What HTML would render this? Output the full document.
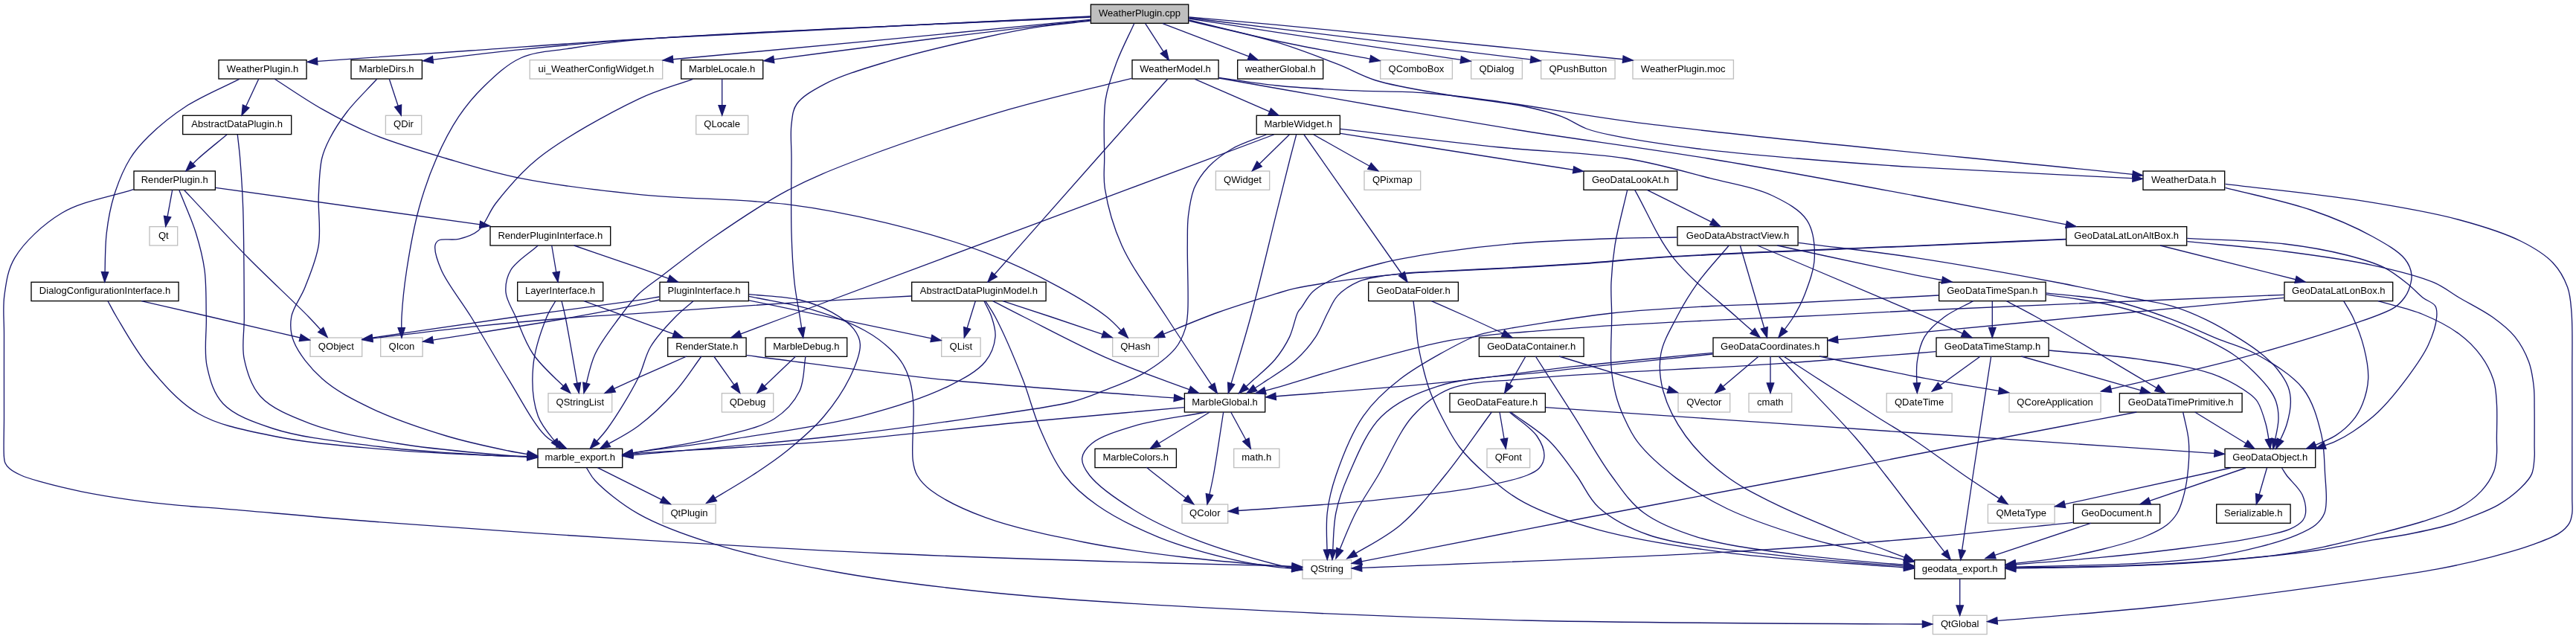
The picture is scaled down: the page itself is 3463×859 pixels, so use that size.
<!DOCTYPE html><html><head><meta charset="utf-8"><title>WeatherPlugin.cpp</title><style>html,body{margin:0;padding:0;background:#fff}svg{display:block;will-change:transform}text{font-family:"Liberation Sans",sans-serif;font-size:13.33px;fill:#000;text-anchor:middle}.e{fill:none;stroke:#191970;stroke-width:1.333}.a{fill:#191970;stroke:#191970;stroke-width:1.333}.b{fill:#fff;stroke:#000;stroke-width:1.333}.g{fill:#fff;stroke:#bfbfbf;stroke-width:1.333}.r{fill:#bfbfbf;stroke:#000;stroke-width:1.333}</style></head><body>
<svg width="3463" height="859" viewBox="0 0 3463 859">
<rect width="3463" height="859" fill="#fff"/>
<rect class="r" x="1466.4" y="6" width="131.3" height="25.3"/>
<text transform="translate(1532,22) scale(0.98,1.02)">WeatherPlugin.cpp</text>
<rect class="b" x="294" y="80.7" width="118.1" height="25.3"/>
<text transform="translate(353,97) scale(0.98,1.02)">WeatherPlugin.h</text>
<rect class="b" x="472" y="80.7" width="95.4" height="25.3"/>
<text transform="translate(519.6,97) scale(0.98,1.02)">MarbleDirs.h</text>
<rect class="g" x="712.2" y="80.7" width="178.5" height="25.3"/>
<text transform="translate(801.4,97) scale(0.98,1.02)">ui_WeatherConfigWidget.h</text>
<rect class="b" x="915.7" y="80.7" width="110" height="25.3"/>
<text transform="translate(970.6,97) scale(0.98,1.02)">MarbleLocale.h</text>
<rect class="b" x="1522" y="80.7" width="116.1" height="25.3"/>
<text transform="translate(1580,97) scale(0.98,1.02)">WeatherModel.h</text>
<rect class="b" x="1663.7" y="80.7" width="115" height="25.3"/>
<text transform="translate(1721.2,97) scale(0.98,1.02)">weatherGlobal.h</text>
<rect class="g" x="1855.7" y="80.7" width="96.7" height="25.3"/>
<text transform="translate(1904,97) scale(0.98,1.02)">QComboBox</text>
<rect class="g" x="1977.7" y="80.7" width="68.7" height="25.3"/>
<text transform="translate(2012,97) scale(0.98,1.02)">QDialog</text>
<rect class="g" x="2071.7" y="80.7" width="99.4" height="25.3"/>
<text transform="translate(2121.3,97) scale(0.98,1.02)">QPushButton</text>
<rect class="g" x="2195" y="80.7" width="135.4" height="25.3"/>
<text transform="translate(2262.7,97) scale(0.98,1.02)">WeatherPlugin.moc</text>
<rect class="b" x="245.7" y="155.3" width="146" height="25.3"/>
<text transform="translate(318.6,171) scale(0.98,1.02)">AbstractDataPlugin.h</text>
<rect class="g" x="518.4" y="155.3" width="48.3" height="25.3"/>
<text transform="translate(542.5,171) scale(0.98,1.02)">QDir</text>
<rect class="g" x="935.7" y="155.3" width="70" height="25.3"/>
<text transform="translate(970.6,171) scale(0.98,1.02)">QLocale</text>
<rect class="b" x="1689.2" y="155.3" width="112.2" height="25.3"/>
<text transform="translate(1745.2,171) scale(0.98,1.02)">MarbleWidget.h</text>
<rect class="b" x="180" y="230" width="109.4" height="25.3"/>
<text transform="translate(234.7,246) scale(0.98,1.02)">RenderPlugin.h</text>
<rect class="g" x="1634.4" y="230" width="72.3" height="25.3"/>
<text transform="translate(1670.5,246) scale(0.98,1.02)">QWidget</text>
<rect class="g" x="1834" y="230" width="75.7" height="25.3"/>
<text transform="translate(1871.8,246) scale(0.98,1.02)">QPixmap</text>
<rect class="b" x="2129" y="230" width="125.7" height="25.3"/>
<text transform="translate(2191.8,246) scale(0.98,1.02)">GeoDataLookAt.h</text>
<rect class="b" x="2881" y="230" width="109.7" height="25.3"/>
<text transform="translate(2935.8,246) scale(0.98,1.02)">WeatherData.h</text>
<rect class="g" x="201" y="304.7" width="37.7" height="25.3"/>
<text transform="translate(219.8,321) scale(0.98,1.02)">Qt</text>
<rect class="b" x="659" y="304.7" width="161.7" height="25.3"/>
<text transform="translate(739.8,321) scale(0.98,1.02)">RenderPluginInterface.h</text>
<rect class="b" x="2255" y="304.7" width="162.1" height="25.3"/>
<text transform="translate(2336,321) scale(0.98,1.02)">GeoDataAbstractView.h</text>
<rect class="b" x="2777.7" y="304.7" width="162" height="25.3"/>
<text transform="translate(2858.7,321) scale(0.98,1.02)">GeoDataLatLonAltBox.h</text>
<rect class="b" x="42" y="379.3" width="198.1" height="25.3"/>
<text transform="translate(141,395) scale(0.98,1.02)">DialogConfigurationInterface.h</text>
<rect class="b" x="695.7" y="379.3" width="115" height="25.3"/>
<text transform="translate(753.1,395) scale(0.98,1.02)">LayerInterface.h</text>
<rect class="b" x="887" y="379.3" width="119.4" height="25.3"/>
<text transform="translate(946.6,395) scale(0.98,1.02)">PluginInterface.h</text>
<rect class="b" x="1225.7" y="379.3" width="180.4" height="25.3"/>
<text transform="translate(1315.8,395) scale(0.98,1.02)">AbstractDataPluginModel.h</text>
<rect class="b" x="1839.7" y="379.3" width="120.7" height="25.3"/>
<text transform="translate(1900,395) scale(0.98,1.02)">GeoDataFolder.h</text>
<rect class="b" x="2606.7" y="379.3" width="143.4" height="25.3"/>
<text transform="translate(2678.3,395) scale(0.98,1.02)">GeoDataTimeSpan.h</text>
<rect class="b" x="3071" y="379.3" width="145.7" height="25.3"/>
<text transform="translate(3143.8,395) scale(0.98,1.02)">GeoDataLatLonBox.h</text>
<rect class="g" x="417" y="454" width="69.7" height="25.3"/>
<text transform="translate(451.8,470) scale(0.98,1.02)">QObject</text>
<rect class="g" x="511.7" y="454" width="56.4" height="25.3"/>
<text transform="translate(539.9,470) scale(0.98,1.02)">QIcon</text>
<rect class="b" x="897.7" y="454" width="105.4" height="25.3"/>
<text transform="translate(950.4,470) scale(0.98,1.02)">RenderState.h</text>
<rect class="b" x="1029" y="454" width="109.7" height="25.3"/>
<text transform="translate(1083.8,470) scale(0.98,1.02)">MarbleDebug.h</text>
<rect class="g" x="1265.7" y="454" width="52.4" height="25.3"/>
<text transform="translate(1291.8,470) scale(0.98,1.02)">QList</text>
<rect class="g" x="1495.7" y="454" width="61.7" height="25.3"/>
<text transform="translate(1526.5,470) scale(0.98,1.02)">QHash</text>
<rect class="b" x="1988.4" y="454" width="140.7" height="25.3"/>
<text transform="translate(2058.7,470) scale(0.98,1.02)">GeoDataContainer.h</text>
<rect class="b" x="2303" y="454" width="153.7" height="25.3"/>
<text transform="translate(2379.8,470) scale(0.98,1.02)">GeoDataCoordinates.h</text>
<rect class="b" x="2603" y="454" width="151.1" height="25.3"/>
<text transform="translate(2678.5,470) scale(0.98,1.02)">GeoDataTimeStamp.h</text>
<rect class="g" x="737" y="528.7" width="85.7" height="25.3"/>
<text transform="translate(779.8,545) scale(0.98,1.02)">QStringList</text>
<rect class="g" x="970.4" y="528.7" width="69.3" height="25.3"/>
<text transform="translate(1005,545) scale(0.98,1.02)">QDebug</text>
<rect class="b" x="1592.4" y="528.7" width="108.3" height="25.3"/>
<text transform="translate(1646.5,545) scale(0.98,1.02)">MarbleGlobal.h</text>
<rect class="b" x="1949" y="528.7" width="128.4" height="25.3"/>
<text transform="translate(2013.2,545) scale(0.98,1.02)">GeoDataFeature.h</text>
<rect class="g" x="2256" y="528.7" width="69.7" height="25.3"/>
<text transform="translate(2290.8,545) scale(0.98,1.02)">QVector</text>
<rect class="g" x="2351" y="528.7" width="57.7" height="25.3"/>
<text transform="translate(2379.8,545) scale(0.98,1.02)">cmath</text>
<rect class="g" x="2536.2" y="528.7" width="87.9" height="25.3"/>
<text transform="translate(2580.1,545) scale(0.98,1.02)">QDateTime</text>
<rect class="g" x="2701" y="528.7" width="123.1" height="25.3"/>
<text transform="translate(2762.5,545) scale(0.98,1.02)">QCoreApplication</text>
<rect class="b" x="2849.4" y="528.7" width="164.7" height="25.3"/>
<text transform="translate(2931.7,545) scale(0.98,1.02)">GeoDataTimePrimitive.h</text>
<rect class="b" x="723" y="603.3" width="113.7" height="25.3"/>
<text transform="translate(779.8,619) scale(0.98,1.02)">marble_export.h</text>
<rect class="b" x="1472" y="603.3" width="109.4" height="25.3"/>
<text transform="translate(1526.7,619) scale(0.98,1.02)">MarbleColors.h</text>
<rect class="g" x="1658.7" y="603.3" width="61.2" height="25.3"/>
<text transform="translate(1689.2,619) scale(0.98,1.02)">math.h</text>
<rect class="g" x="1999" y="603.3" width="57.7" height="25.3"/>
<text transform="translate(2027.8,619) scale(0.98,1.02)">QFont</text>
<rect class="b" x="2991" y="603.3" width="121.7" height="25.3"/>
<text transform="translate(3051.8,619) scale(0.98,1.02)">GeoDataObject.h</text>
<rect class="g" x="891" y="678" width="71.1" height="25.3"/>
<text transform="translate(926.5,694) scale(0.98,1.02)">QtPlugin</text>
<rect class="g" x="1589" y="678" width="61.7" height="25.3"/>
<text transform="translate(1619.8,694) scale(0.98,1.02)">QColor</text>
<rect class="g" x="2672.4" y="678" width="89.7" height="25.3"/>
<text transform="translate(2717.2,694) scale(0.98,1.02)">QMetaType</text>
<rect class="b" x="2787.4" y="678" width="116.3" height="25.3"/>
<text transform="translate(2845.5,694) scale(0.98,1.02)">GeoDocument.h</text>
<rect class="b" x="2979.7" y="678" width="99.4" height="25.3"/>
<text transform="translate(3029.3,694) scale(0.98,1.02)">Serializable.h</text>
<rect class="g" x="1751" y="752.7" width="65.7" height="25.3"/>
<text transform="translate(1783.8,769) scale(0.98,1.02)">QString</text>
<rect class="b" x="2573.7" y="752.7" width="122" height="25.3"/>
<text transform="translate(2634.7,769) scale(0.98,1.02)">geodata_export.h</text>
<rect class="g" x="2598.4" y="827.3" width="72.7" height="25.3"/>
<text transform="translate(2634.7,843) scale(0.98,1.02)">QtGlobal</text>
<path class="e" d="M1465.7,22C1263.1,32.2 1011.2,43.6 858,52.7C764.7,58.2 707.6,62.9 633,68C559.3,73.1 486.5,78.2 413.3,83.3"/>
<polygon class="a" points="426.3,77.7 413.3,83.3 426.9,87"/>
<path class="e" d="M1465.7,22.5C1263.1,32.6 994.8,43.5 858,52.9C788.2,57.7 750.2,61.6 700,66.7C654.2,71.3 612.5,76.7 568.7,81.7"/>
<polygon class="a" points="581.4,75.5 568.7,81.7 582.5,84.8"/>
<path class="e" d="M1465.7,23C1263.1,33.1 971.1,43.3 858,53.3C814,57.2 794.7,60.5 766.7,65C742.7,68.9 719.7,69.1 700,78C681,86.6 664.3,102.9 650,116.7C637,129.3 626.8,141.6 616.7,156.7C605.5,173.4 595.4,193.1 586.7,213C577.5,234 569.8,256 563.3,279.7C556.2,305.7 550.7,337.1 546.7,363C543.3,385.4 540.9,409.2 540,426C539.4,437.2 540,444.7 540,454"/>
<polygon class="a" points="535.1,440.7 540,454 544.4,440.6"/>
<path class="e" d="M1465.7,26.3C1374.1,35.3 1284.6,44.3 1191,53.2C1093.3,62.5 991.2,71.7 891.3,81"/>
<polygon class="a" points="904.1,75.1 891.3,81 905,84.4"/>
<path class="e" d="M1465.7,27.3C1443.8,29.6 1426.1,31.3 1400,34.3C1361.7,38.7 1311,44.8 1258,51.5C1190.3,60 1104,71.6 1027,81.7"/>
<polygon class="a" points="1039.6,75.3 1027,81.7 1040.8,84.6"/>
<path class="e" d="M1465.7,28.2C1443.8,30.7 1422.6,32.3 1400,35.7C1375.7,39.4 1353.3,43.7 1324.7,50C1286.4,58.4 1230.3,71.4 1191.3,83.3C1160,92.8 1129.6,101.9 1108,113.3C1092.5,121.5 1078.1,129.7 1071,140C1065.5,148 1065.3,156.5 1064,166.7C1062.3,179.9 1064,194.6 1064,213C1064,240 1063.1,283 1064,313C1064.7,337.5 1065.8,359.5 1068,379.7C1069.8,396.6 1073.2,412.5 1075.3,426C1077,436.5 1078.2,444.7 1079.7,454"/>
<polygon class="a" points="1073,441.6 1079.7,454 1082.2,440.1"/>
<path class="e" d="M1524.7,31.7C1516.9,48.9 1507.8,66 1501.3,83.3C1495.1,99.9 1489.3,114.5 1486.3,133.3C1482.6,156.6 1484.8,191 1484.7,213C1484.7,228.6 1483,237.7 1485.3,253C1488.6,274.6 1496.2,303.5 1508,329.7C1522,360.9 1547.1,393.5 1568,426C1589.8,459.8 1613.5,494.5 1636.3,528.7"/>
<polygon class="a" points="1625,520.2 1636.3,528.7 1632.8,515"/>
<path class="e" d="M1539.7,31.7C1539.7,31.7 1571.3,80.7 1571.3,80.7"/>
<polygon class="a" points="1560.2,72 1571.3,80.7 1568,67"/>
<path class="e" d="M1563,31.7C1563,31.7 1691.3,80.7 1691.3,80.7"/>
<polygon class="a" points="1677.2,80.3 1691.3,80.7 1680.5,71.6"/>
<path class="e" d="M1598.3,27C1637.5,36.3 1675,46.2 1716,55C1760.3,64.5 1808.7,72.8 1855,81.7"/>
<polygon class="a" points="1841,83.8 1855,81.7 1842.8,74.6"/>
<path class="e" d="M1598.3,25C1637.5,31.1 1675.5,37.1 1716,43.3C1759,49.9 1805.3,56.7 1849.3,63.3C1892.3,69.7 1934.4,76 1977,82.3"/>
<polygon class="a" points="1963.1,85 1977,82.3 1964.5,75.7"/>
<path class="e" d="M1598.3,24C1637.5,28.8 1666.2,32.2 1716,38.3C1802.5,48.8 1952.7,67.2 2071,81.7"/>
<polygon class="a" points="2057.2,84.7 2071,81.7 2058.3,75.4"/>
<path class="e" d="M1598.3,23C1637.5,26.4 1663.6,28.4 1716,33.3C1821.9,43.2 2035.3,65.1 2195,81"/>
<polygon class="a" points="2181.3,84.3 2195,81 2182.2,75"/>
<path class="e" d="M1598.3,28C1637.5,37.6 1680.4,46 1716,56.7C1746.4,65.9 1775.2,77.2 1799.3,86.7C1818.2,94.1 1829.4,101.8 1849.3,108C1876.5,116.4 1915.7,122.2 1949,128C1982.2,133.8 2021.5,137.2 2049,143C2068.8,147.2 2084.5,151.1 2099.3,156.7C2111.8,161.4 2121.4,168.8 2132.7,173C2143.6,177 2151.4,178.7 2166,181.7C2193,187.3 2242.4,194.9 2282.7,200C2325.6,205.4 2369.7,209 2416,213C2466.4,217.3 2512.7,220.9 2574,224.7C2659.3,230 2778.2,235.1 2880.3,240.3"/>
<polygon class="a" points="2866.8,244.3 2880.3,240.3 2867.2,235"/>
<path class="e" d="M321.7,106.3C297.8,118.5 271.1,129.3 250,143C231.1,155.2 213.3,170 200,183C189.6,193.2 182.3,201.1 175,213C166.4,227 158.6,246 153.3,263C148.2,279.4 145.4,295.1 143.3,313C140.9,333.4 141.6,357 140.7,379"/>
<polygon class="a" points="136.4,365.5 140.7,379 145.7,365.8"/>
<path class="e" d="M347.7,106.3C347.7,106.3 325,155 325,155"/>
<polygon class="a" points="326.4,140.9 325,155 334.9,144.9"/>
<path class="e" d="M369.3,106.3C390.5,119.8 411.2,134.4 433,146.7C454.7,159 475,169.7 500,180C529.6,192.2 566.5,203 600,213C633.2,222.9 662.6,232.2 700,239.7C746.4,249 802.1,255.6 858,261.3C920.6,267.7 998.3,267.1 1058,274.7C1107.1,280.9 1147.1,289 1191.3,299.7C1236,310.6 1283.9,324.2 1324.7,339.7C1361,353.5 1395.6,370.5 1424.7,386.3C1448.7,399.3 1471.6,413 1488,426C1500,435.5 1506.9,444.7 1516.3,454"/>
<polygon class="a" points="1503.7,447.6 1516.3,454 1510.5,441.1"/>
<path class="e" d="M506.7,106.3C493.4,120.9 477.8,135.6 466.7,150C457.2,162.4 448.9,175.2 443,186.7C438.3,195.9 435.1,202.6 432.7,213C429.5,226.8 429.1,245.1 428.3,263C427.4,283.6 431.6,308.6 428.3,329.7C425.2,349.6 416.6,369.3 410,386.3C404.3,400.9 393.9,413.1 391.7,426C389.8,437.3 390.4,447.8 395,459.3C401.3,475.1 417.1,494.8 433.3,509.3C451.3,525.4 474.9,537.3 500,549.3C529.4,563.4 567.9,576.3 600,586C628.8,594.7 660.7,601.3 683.3,606C698.7,609.2 709.3,610.5 722.3,612.7"/>
<polygon class="a" points="708.4,615.2 722.3,612.7 709.9,606"/>
<path class="e" d="M523.3,106.3C523.3,106.3 539.3,155 539.3,155"/>
<polygon class="a" points="530.7,143.8 539.3,155 539.6,140.9"/>
<path class="e" d="M931.3,106.3C906.9,115.3 885.5,120.3 858,133.3C819.1,151.8 757.2,185.9 723.3,213C698.7,232.7 680.9,254.8 666.7,273C656.4,286.2 652.8,301.6 643.3,309.7C635.6,316.3 625.8,319.1 616.7,321.3C608,323.4 595.1,320.2 590,323C587.1,324.5 585.7,326.4 585,329.7C583.7,336.4 588,350.6 593.3,363C601.1,381.2 619.4,403.4 633.3,426C649.2,451.7 666.4,482.3 683.3,509.3C699.7,535.6 717.2,570.5 733.3,586C743,595.3 752.2,597.3 761.7,603"/>
<polygon class="a" points="747.7,601.1 761.7,603 751.9,592.8"/>
<path class="e" d="M970.7,106.3C970.7,106.3 970.7,155 970.7,155"/>
<polygon class="a" points="966,141.7 970.7,155 975.4,141.7"/>
<path class="e" d="M1521.3,105.3C1466.9,119.1 1414.9,130.1 1358,146.7C1294.4,165.3 1212.8,192.1 1158,213C1118.6,228 1090.7,239 1058,256.3C1023.9,274.3 987.6,299.3 958,319.7C933.1,336.9 909.7,355.7 891.3,369.7C878.2,379.7 867.8,386.1 858,395.7C848.6,404.9 841.9,414.4 833.3,426C822.7,440.4 808.1,458.5 800,476C792.3,492.7 790,510.9 785,528.3"/>
<polygon class="a" points="783.8,514.2 785,528.3 792.8,516.5"/>
<path class="e" d="M1569.7,106.3C1538,141.9 1509.8,173.5 1474.7,213C1431.1,262.2 1376.9,323.7 1328,379"/>
<polygon class="a" points="1333.3,365.9 1328,379 1340.3,372.1"/>
<path class="e" d="M1606.3,106.3C1606.3,106.3 1719,155.3 1719,155.3"/>
<polygon class="a" points="1704.9,154.3 1719,155.3 1708.6,145.7"/>
<path class="e" d="M1638.7,104.3C1664.5,107.9 1688.5,112.2 1716,115C1747.1,118.2 1782.7,120 1816,121.7C1849.3,123.4 1882.7,122.5 1916,125C1949.4,127.5 1977,131.5 2016,136.7C2071.3,144.1 2129.7,155.8 2216,166.7C2372.7,186.6 2658.9,212.7 2880.3,235.7"/>
<polygon class="a" points="2866.6,239 2880.3,235.7 2867.5,229.7"/>
<path class="e" d="M1638.7,105C1720,119.3 1809.1,135.3 1882.7,148C1943.4,158.5 1988.1,166.3 2049,176C2123.2,187.8 2211.3,199 2296,213C2386,227.8 2487.1,246.9 2574,263C2650.8,277.2 2718.5,290.5 2790.7,304.3"/>
<polygon class="a" points="2776.7,306.4 2790.7,304.3 2778.5,297.2"/>
<path class="e" d="M305,181C292.2,191.7 276.7,203.9 266.7,213C259.8,219.3 255.6,224.1 250,229.7"/>
<polygon class="a" points="256,216.9 250,229.7 262.6,223.4"/>
<path class="e" d="M319.3,181C320.4,191.7 321.7,200.4 322.7,213C324.2,231.2 325.8,253.1 326.7,279.7C328.1,319 328.1,388.6 328.3,426C328.4,449.3 324.6,464.8 328.3,482.7C332,500.3 337.5,518.9 350,532.7C364.8,549 390.6,559.4 416.7,569.3C449.5,581.8 492.9,589.1 533.3,596C576.1,603.3 631.8,607.8 666.7,611C689.2,613.1 703.8,613.7 722.3,615"/>
<polygon class="a" points="708.7,618.8 722.3,615 709.3,609.4"/>
<path class="e" d="M1712.6,181C1608.8,219.8 1508.1,257.4 1401.3,297.3C1288.1,339.6 1122.8,401.2 1051.3,428C1019.7,439.8 1005.8,445.1 983,453.7"/>
<polygon class="a" points="993.8,444.6 983,453.7 997.1,453.4"/>
<path class="e" d="M1702.3,181C1687,187.3 1669.8,192.2 1656.3,200C1644.2,207 1633.1,215.3 1624.4,224.5C1616.5,233 1610.1,242.1 1605.6,252.6C1600.9,263.8 1599.1,277.3 1597.5,290C1595.9,303 1596.5,314 1596.3,330C1596,354 1598.1,400.2 1596.7,420C1596,429.8 1595.8,434.5 1593.4,441.9C1590.7,450.5 1587.1,459.7 1580.2,468.2C1570.9,479.6 1554.1,491.8 1538.6,501.1C1522.2,511 1501.2,518.4 1483.8,525.2C1468.5,531.2 1458.3,535.8 1440,540.5C1410.9,547.9 1368.4,552.8 1324.7,559.3C1267.2,567.8 1196.2,577.9 1124.7,586C1042.3,595.4 896.7,607.3 858,611C847.2,612 844.2,612.3 837.3,613"/>
<polygon class="a" points="850.1,607.1 837.3,613 851,616.4"/>
<path class="e" d="M1733.3,181C1733.3,181 1683.5,229.7 1683.5,229.7"/>
<polygon class="a" points="1689.8,217 1683.5,229.7 1696.3,223.7"/>
<path class="e" d="M1742.7,181C1739.9,191.7 1737.6,200.1 1734.3,213C1729.3,232.4 1723.1,258 1716,286.3C1706.3,325.4 1692.9,383.2 1681.3,426C1671.3,462.9 1661.3,494.2 1651.3,528.3"/>
<polygon class="a" points="1650.6,514.2 1651.3,528.3 1659.6,516.8"/>
<path class="e" d="M1753,181C1753,181 1892,379 1892,379"/>
<polygon class="a" points="1880.5,370.8 1892,379 1888.2,365.4"/>
<path class="e" d="M1766,181C1784.9,191.7 1806.8,204.1 1822.7,213C1834.3,219.5 1842.7,224.1 1852.7,229.7"/>
<polygon class="a" points="1838.8,227.3 1852.7,229.7 1843.3,219.1"/>
<path class="e" d="M1802,179.3C1873.3,190.5 1956.1,203.7 2016,213C2059.4,219.8 2090.9,224.5 2128.3,230.3"/>
<polygon class="a" points="2114.4,232.9 2128.3,230.3 2115.8,223.7"/>
<path class="e" d="M1802,173.3C1873.3,181.5 1948.7,191.2 2016,198C2075.9,204.1 2135.3,204.8 2186,213C2227.9,219.7 2264.5,230.7 2299.3,239.7C2329.3,247.4 2359.7,252 2382.7,263C2401.4,272 2419.9,281.8 2429.3,296.3C2438.1,310 2439.8,329.7 2439.3,346.3C2438.8,363 2431.4,382 2426,396.3C2421.6,407.7 2416.8,416.5 2411,426C2405.1,435.6 2397.7,444.5 2391,453.7"/>
<polygon class="a" points="2395.3,440.2 2391,453.7 2402.7,445.8"/>
<path class="e" d="M179.3,254.7C147.3,265.2 110.5,270.1 83.3,286.3C58,301.4 32.6,325.4 20,346.3C10.3,362.4 8.4,379.2 6,396.3C3.5,413.7 5.6,428.9 5.5,450C5.4,480.2 5.5,529.7 5.5,560C5.5,581.4 4.5,604.9 5.5,614.8C5.9,618.6 5.9,620.1 7,622.5C8.2,625.2 10.2,627.6 13,630C16.8,633.2 22.5,636.3 28.5,639C36,642.4 44.5,644.7 55,647.7C69.9,651.9 90.5,656.9 109.6,660.8C130.3,665 153.1,668.7 175,671.8C196.9,674.9 219.6,677.4 241,679.4C261.2,681.3 274.5,681.8 300,683.8C346.9,687.6 423.7,695.1 500,701C602.1,708.9 740.8,718.4 858,725.7C971.1,732.7 1080.2,739 1191.3,744C1302.4,749 1428.9,752.8 1524.7,755.7C1597.3,757.9 1678.1,759.5 1716,760.7C1732.1,761.2 1738.9,761.6 1750.3,762"/>
<polygon class="a" points="1736.8,766.1 1750.3,762 1737.2,756.8"/>
<path class="e" d="M231.7,255.3C231.7,255.3 222.7,304.3 222.7,304.3"/>
<polygon class="a" points="220.5,290.3 222.7,304.3 229.7,292"/>
<path class="e" d="M240.7,255.3C248.2,274.5 257.5,294.3 263.3,313C268.6,330.1 272.6,345.2 275,363C277.6,382.7 276.8,404.7 277.3,426C277.9,447.9 273.9,472.5 278.3,492.7C282.2,511 287.3,529.3 300,542.7C314.8,558.3 339.9,567.2 366.7,576C402.8,587.9 452.9,593.3 500,599.3C552.3,606 626,610.5 666.7,612.7C690.2,614 703.8,613.8 722.3,614.3"/>
<polygon class="a" points="708.9,618.7 722.3,614.3 709.1,609.3"/>
<path class="e" d="M247.3,255.3C276,285.6 304.7,317.2 333.3,346.3C360.6,374 395.8,406.2 415,426C425.9,437.3 431.7,444.2 440,453.3"/>
<polygon class="a" points="427.6,446.5 440,453.3 434.6,440.3"/>
<path class="e" d="M290,252.3C290,252.3 658.3,303.7 658.3,303.7"/>
<polygon class="a" points="644.5,306.5 658.3,303.7 645.7,297.2"/>
<path class="e" d="M723.3,330C711.1,341 693.7,351.1 686.7,363C681.2,372.4 679.2,382.9 680,393C680.9,403.9 688.1,413.9 693.3,426C699.8,441 705.7,460 716.7,476C729.2,494.3 750,510.9 766.7,528.3"/>
<polygon class="a" points="754,522.2 766.7,528.3 760.6,515.6"/>
<path class="e" d="M741.7,330C741.7,330 750,379 750,379"/>
<polygon class="a" points="743.2,366.6 750,379 752.4,365.1"/>
<path class="e" d="M771.7,330C800.5,339.9 832.7,350.8 858,359.7C877.9,366.7 893.5,372.6 911.3,379"/>
<polygon class="a" points="897.2,378.8 911.3,379 900.4,370.1"/>
<path class="e" d="M145,404.7C148.9,411.8 151.3,417.1 156.7,426C166.4,442.2 182.6,471.7 200,492.7C218.8,515.3 240.1,540.6 266.7,556C295.1,572.4 330.6,578.4 366.7,586C407.6,594.6 453,598.4 500,602.7C552.4,607.5 626,611.1 666.7,612.7C690.2,613.6 703.8,613.4 722.3,613.7"/>
<polygon class="a" points="708.9,618.2 722.3,613.7 709,608.9"/>
<path class="e" d="M190,404.7C221.1,411.8 249.5,418.2 283.3,426C323.7,435.3 372,446.7 416.3,457"/>
<polygon class="a" points="402.3,458.5 416.3,457 404.4,449.4"/>
<path class="e" d="M746.7,404.7C742.8,411.8 738.8,416.6 735,426C728.6,441.8 718.6,470.3 716.7,492.7C714.8,514.7 716.3,540.2 723.3,559.3C729.5,576.3 743.3,588.4 753.3,603"/>
<polygon class="a" points="741.5,595.2 753.3,603 748.9,589.6"/>
<path class="e" d="M755,404.7C756.7,411.8 758,416.2 760,426C764.4,447.3 772.2,494.2 778.3,528.3"/>
<polygon class="a" points="771.4,516 778.3,528.3 780.6,514.4"/>
<path class="e" d="M785,404.7C785,404.7 918,453.7 918,453.7"/>
<polygon class="a" points="903.9,453.5 918,453.7 907.1,444.7"/>
<path class="e" d="M886.3,399C876.9,400.6 871.3,401.7 858,403.7C826.7,408.4 756.6,417.1 700,425C634.3,434.2 558.2,445.7 487.3,456"/>
<polygon class="a" points="499.8,449.5 487.3,456 501.2,458.7"/>
<path class="e" d="M886.3,403C876.9,405.2 870.5,407 858,409.7C833.7,414.9 790.7,422.9 750,430C697.4,439.2 629.1,449.5 568.7,459.3"/>
<polygon class="a" points="581.1,452.6 568.7,459.3 582.6,461.8"/>
<path class="e" d="M932,404.7C924,411.8 916.3,417.4 908,426C897.4,436.9 883.1,451.8 874.7,466C866.8,479.2 865.6,492.7 858,508C847.9,528.3 829.2,558.9 816.7,576C808.3,587.5 801.1,594 793.3,603"/>
<polygon class="a" points="798.8,590 793.3,603 805.7,596.3"/>
<path class="e" d="M1007,403.8C1007,403.8 1265,457.7 1265,457.7"/>
<polygon class="a" points="1251,459.5 1265,457.7 1252.9,450.4"/>
<path class="e" d="M1007,395.7C1029.6,398.1 1054.9,398.2 1074.7,403C1091,407 1105.3,412.6 1118,419.7C1129.4,426.1 1141.6,434.4 1148,442.7C1152.8,449 1155.9,454.8 1156.3,462.7C1156.9,473.7 1151.1,488.7 1144.7,502.7C1136.6,520.5 1122.4,542.1 1108,559.3C1093.5,576.6 1074.9,592.3 1058,606C1042.6,618.5 1028.2,628 1011.3,639C992.4,651.4 970.2,663.9 949.7,676.3"/>
<polygon class="a" points="958.7,665.4 949.7,676.3 963.5,673.5"/>
<path class="e" d="M1007,398.4C1035.6,404.5 1066.1,408.5 1092.9,416.6C1117.7,424.1 1144,434.1 1162.8,444.5C1177.1,452.4 1188.8,461.6 1197.8,470.2C1204.7,476.8 1209.7,482.6 1214,490C1218.5,497.5 1221.7,506.1 1224,515C1226.5,524.4 1227.2,532.7 1228,545C1229.2,564.2 1225,602.6 1227.3,619.3C1228.5,628.1 1229.5,632.8 1233,639C1237,646.1 1242.3,652.2 1251.3,659C1267,670.8 1295.9,685.1 1324.7,695.7C1361.9,709.5 1413.4,720.1 1458,729C1502.2,737.8 1547.5,743.7 1591.3,749C1633.5,754.1 1687.4,758.4 1716,760.7C1731,761.9 1738.9,762.2 1750.3,763"/>
<polygon class="a" points="1736.7,766.8 1750.3,763 1737.3,757.5"/>
<path class="e" d="M1225,398C1174.9,400.8 1129.4,402.9 1074.7,406.3C1009,410.4 911.4,417.8 858,421.3C826.6,423.4 812.5,423.8 783.3,426C741.9,429.1 682.9,434.1 633.3,439.3C584.3,444.4 536,450.9 487.3,456.7"/>
<polygon class="a" points="500,450.5 487.3,456.7 501.1,459.7"/>
<path class="e" d="M1311.3,404.7C1309.1,411.8 1307,418.4 1304.7,426C1302.1,434.6 1299.1,444.5 1296.3,453.7"/>
<polygon class="a" points="1295.7,439.6 1296.3,453.7 1304.6,442.3"/>
<path class="e" d="M1323,404.7C1326.3,411.8 1330.5,418.3 1333,426C1335.7,434.2 1338.9,443.4 1338,452.7C1337,463.3 1332.8,476 1324.7,486C1314.2,498.9 1295.7,508.9 1274.7,519.3C1244.6,534.1 1200.8,548.2 1158,559.3C1107.8,572.3 1043.8,580.9 991.3,589.3C944.5,596.7 883.1,604 858,607.7C848.1,609.2 844.2,609.9 837.3,611"/>
<polygon class="a" points="849.7,604.2 837.3,611 851.2,613.5"/>
<path class="e" d="M1324.7,404.7C1329.1,411.8 1332.9,416.3 1338,426C1347.7,444.4 1364.3,482.9 1374.7,509.3C1383.9,532.6 1388.6,554.4 1398,576C1407.4,597.7 1417.7,621.3 1431.3,639C1443.7,655.1 1456.9,666.5 1474.7,679C1497.2,694.8 1528.4,710.3 1558,722.3C1589.3,735 1629,745.5 1658,752.3C1679.8,757.4 1699.1,760.2 1716,762.3C1728.9,763.9 1738.9,764.1 1750.3,765"/>
<polygon class="a" points="1736.7,768.8 1750.3,765 1737.3,759.5"/>
<path class="e" d="M1334.7,404.7C1348.6,411.8 1358.9,417.3 1376.3,426C1405.1,440.4 1452.1,465.7 1491.3,482.7C1530.5,499.8 1571.3,513.1 1611.3,528.3"/>
<polygon class="a" points="1597.2,528 1611.3,528.3 1600.5,519.3"/>
<path class="e" d="M1348,404.7C1369.7,411.8 1390.1,418.4 1413,426C1438.8,434.6 1467.7,444.5 1495,453.7"/>
<polygon class="a" points="1480.9,453.8 1495,453.7 1483.9,445"/>
<path class="e" d="M923,479C901.3,488.6 877.6,498.9 858,507.7C841.7,515.1 828.2,521.4 813.3,528.3"/>
<polygon class="a" points="823.4,518.5 813.3,528.3 827.4,526.9"/>
<path class="e" d="M943,479C931.3,494.7 921.5,510.9 908,526C893.4,542.3 875.5,559.6 858,572.7C841.6,584.9 823.8,592.9 806.7,603"/>
<polygon class="a" points="816,592.4 806.7,603 820.6,600.5"/>
<path class="e" d="M959.7,479C959.7,479 994.7,528.3 994.7,528.3"/>
<polygon class="a" points="983.2,520.1 994.7,528.3 990.8,514.7"/>
<path class="e" d="M1003.7,477.7C1088.5,488.2 1167.4,500 1258,509.3C1361.6,519.9 1480.5,527.1 1591.7,536"/>
<polygon class="a" points="1578,539.6 1591.7,536 1578.8,530.3"/>
<path class="e" d="M1069.7,479C1069.7,479 1018,528.3 1018,528.3"/>
<polygon class="a" points="1024.4,515.7 1018,528.3 1030.9,522.5"/>
<path class="e" d="M1083,479C1080.2,494.7 1081.5,512.2 1074.7,526C1067.8,540.1 1056.6,552.9 1041.3,562.7C1020.9,575.8 987.3,582 958,589.3C926.4,597.2 878.8,603.6 858,607.7C848.5,609.6 844.2,610.6 837.3,612"/>
<polygon class="a" points="849.4,604.7 837.3,612 851.3,613.8"/>
<path class="e" d="M2187.7,255.3C2182.1,280.1 2174.6,307.3 2171,329.7C2168.1,347.9 2166.7,363.3 2166,379.7C2165.3,395.4 2166.7,409.2 2166.7,426C2166.7,446.2 2164.6,473.7 2166,492.7C2167.1,507 2169,518.4 2172,530C2174.7,540.7 2178.1,549.8 2182.7,560C2187.8,571.3 2192.6,582.7 2201.7,594.4C2213.9,610.1 2234,628 2253.3,642.6C2273.9,658.1 2296.3,671.6 2322.2,684C2352.6,698.5 2394.3,712.2 2425.5,721.8C2450.6,729.5 2470.6,733.7 2494.4,739.1C2519.7,744.8 2546.8,749.7 2573,755"/>
<polygon class="a" points="2559,757 2573,755 2560.8,747.8"/>
<path class="e" d="M2197.7,255.3C2214.9,285.6 2227.4,318.5 2249.3,346.3C2272.4,375.7 2312.7,406.4 2334.3,426C2347.3,437.8 2355.4,444.5 2366,453.7"/>
<polygon class="a" points="2352.9,448.5 2366,453.7 2359,441.4"/>
<path class="e" d="M2214.3,255.3C2214.3,255.3 2312.7,304.3 2312.7,304.3"/>
<polygon class="a" points="2298.7,302.5 2312.7,304.3 2302.8,294.2"/>
<path class="e" d="M2991.5,247.3C3052,254.8 3117.3,260.9 3173,269.7C3220.9,277.3 3267.1,285 3306,295.5C3337.4,304 3367,313.2 3389.5,324.5C3406.6,333.1 3421.1,341.8 3431.7,353C3441,362.8 3447.5,374.7 3451.7,386.3C3455.6,397.1 3455.9,406.3 3457,420C3458.7,440.9 3457.7,471.8 3457.8,500C3458,531.5 3457.8,569.6 3457.8,600C3457.8,625.4 3457.8,653.7 3457.8,670C3457.8,678.7 3458.6,684.2 3457.8,690.1C3457.1,695 3456.4,699.2 3454,703.3C3451.2,708.1 3446.8,712.4 3440.9,716.4C3432.6,722.1 3420,726.6 3407.1,731.4C3390.9,737.4 3371,743 3350.8,748.3C3327.7,754.4 3301.6,760.3 3275.7,765.2C3248.2,770.4 3226.7,773.1 3190,778.3C3124.7,787.6 3005.8,804.3 2917.1,814C2833.2,823.2 2753.5,828.5 2671.7,835.7"/>
<polygon class="a" points="2684.6,829.9 2671.7,835.7 2685.4,839.2"/>
<path class="e" d="M2991.5,252.3C3029.7,262.2 3071.3,270.1 3106,282C3136.5,292.4 3166.7,305.4 3189.5,318C3206.9,327.6 3224.3,337.5 3232.8,348C3238.5,355 3241.3,362.5 3242,369.7C3242.7,376.5 3240,384.5 3238,390C3236.5,394.1 3235,396.6 3232.5,400C3229.3,404.3 3225.8,408.8 3219.3,413.1C3207.5,420.9 3186.7,427.4 3163,435.7C3124.2,449.3 3061.5,468.1 3007.3,482.7C2949.1,498.4 2885.6,511.6 2824.7,526"/>
<polygon class="a" points="2836.6,518.4 2824.7,526 2838.7,527.5"/>
<path class="e" d="M2254.3,319C2227.1,319.5 2203.7,319.4 2172.8,320.5C2132,321.9 2073.8,324.1 2031.1,327.8C1995.7,330.8 1964.6,334.7 1934.1,339.4C1906.7,343.6 1880.4,348 1856.5,354C1835.5,359.3 1814.5,365.1 1798.2,372.4C1785.3,378.2 1773.6,384.2 1765.2,391.8C1758.2,398.1 1753.5,408.1 1749.7,413.2C1747.6,416.1 1746.3,416.7 1744.6,420C1741.1,426.7 1738.6,442.4 1733.6,452.9C1728.5,463.6 1722,473.8 1713.9,483.5C1704.9,494.3 1689.9,505.9 1681,514.2C1674.9,519.9 1670.7,523.9 1665.5,528.7"/>
<polygon class="a" points="1672,516.2 1665.5,528.7 1678.4,523"/>
<path class="e" d="M2324.3,330C2310.4,346.6 2294.7,363 2282.7,379.7C2271.7,395 2262.6,410 2254.3,426C2246,442.1 2235.6,459 2232.7,476C2229.9,492.3 2231.4,509 2236,526C2241.3,545.6 2252.7,567.6 2266,586C2280.1,605.5 2299.7,624 2319.3,639C2338.6,653.8 2358.8,663.6 2382.7,675.7C2411.9,690.4 2450.1,705.6 2482.7,719C2513.4,731.6 2542.9,742.3 2573,754"/>
<polygon class="a" points="2558.9,753.6 2573,754 2562.2,744.9"/>
<path class="e" d="M2339.3,330C2339.3,330 2375.5,453.7 2375.5,453.7"/>
<polygon class="a" points="2367.3,442.2 2375.5,453.7 2376.2,439.6"/>
<path class="e" d="M2362.7,330C2433.1,359.9 2521.1,396.8 2574,419.7C2606,433.6 2625.1,442.4 2650.7,453.7"/>
<polygon class="a" points="2636.6,452.5 2650.7,453.7 2640.4,444"/>
<path class="e" d="M2389.3,330C2450.9,343.2 2531.8,361.2 2574,369.7C2595.9,374.1 2607.3,375.9 2624,379"/>
<polygon class="a" points="2610,381.2 2624,379 2611.7,372"/>
<path class="e" d="M2417.7,326.3C2469.8,333 2519.3,338 2574,346.3C2635,355.5 2714.3,369.9 2767,380C2803.7,387 2832.5,393.8 2860.2,399.5C2882.4,404.1 2901.9,406.1 2920.3,411.6C2936.7,416.5 2950.6,422.5 2965.4,429.6C2980.7,436.9 2997.2,446.7 3010.5,455.1C3021.7,462.1 3031.6,468.6 3040.5,476C3048.6,482.7 3056,489.4 3062,497C3067.7,504.2 3073.1,512.3 3076,520C3078.5,526.7 3079.4,532.6 3079.4,540C3079.4,549.3 3077,561 3073.9,571.3C3070.6,582.1 3064.5,592.6 3059.8,603.3"/>
<polygon class="a" points="3061.3,589.3 3059.8,603.3 3069.7,593.3"/>
<path class="e" d="M2777,321.3C2709.3,324.3 2650,326.9 2574,330.3C2476.5,334.6 2321.6,340.2 2240,345.2C2192.8,348.1 2164.2,351.5 2128.2,354C2094.7,356.3 2063.5,358 2031.1,359.8C1998.8,361.6 1960.9,363.1 1934.1,364.6C1915.2,365.7 1899.7,366.2 1885.6,367.6C1874.6,368.7 1866.2,369.6 1856.5,371.4C1846.7,373.2 1836.7,374.1 1827.3,378.2C1817.2,382.6 1805.4,390 1798.2,397.6C1792,404.2 1789.6,411.7 1785.1,420C1779.8,429.8 1775.6,442.5 1768.7,452.9C1761.5,463.8 1753,473.9 1742.4,483.5C1730.2,494.5 1710.8,506 1698.5,514.2C1689.8,520 1683.5,523.9 1676,528.7"/>
<polygon class="a" points="1684.7,517.6 1676,528.7 1689.8,525.5"/>
<path class="e" d="M2777,321.8C2709.3,324.8 2650,327.4 2574,330.8C2476.5,335.1 2321.6,340.7 2240,345.7C2192.8,348.6 2164.2,352 2128.2,354.5C2094.7,356.8 2063.5,358.5 2031.1,360.3C1998.8,362.1 1960.9,363.6 1934.1,365.1C1915.2,366.2 1903.1,366.6 1885.6,368.1C1864.8,369.8 1841,372.2 1817.6,375.3C1792.5,378.7 1758.4,383.8 1740,387.9C1729.6,390.2 1726.3,391.6 1716,394.7C1697.3,400.4 1663.8,410.4 1637.2,420C1609.2,430.1 1580.4,442.7 1552,454"/>
<polygon class="a" points="1562.6,444.7 1552,454 1566.1,453.3"/>
<path class="e" d="M2904,330C2904,330 3099,379 3099,379"/>
<polygon class="a" points="3084.9,380.3 3099,379 3087.2,371.2"/>
<path class="e" d="M2940.3,320.3C2984.1,322.9 3033,323.4 3071.7,328C3102.7,331.7 3130.9,336.9 3155,343C3174,347.9 3190.5,352.4 3205,359.7C3217.8,366.1 3229,375.6 3238.3,383C3245.6,388.9 3250.7,395.1 3256.9,400C3262.5,404.4 3270.8,406.4 3273.8,411.3C3276.4,415.5 3276.2,420.2 3275.7,426.3C3274.9,436.1 3270.1,451.4 3264.4,463.8C3258,477.7 3248.4,491.1 3238.1,505.1C3226.3,521.1 3210.6,540.8 3196.8,554C3185.5,564.8 3173.4,573.3 3163,580.2C3154.8,585.6 3148.1,589.4 3140,593.2C3131.5,597.2 3122,599.9 3113,603.3"/>
<polygon class="a" points="3124,594.5 3113,603.3 3127.1,603.3"/>
<path class="e" d="M2940.3,324.7C2984.1,329.1 3029.3,332.5 3071.7,338C3111.8,343.2 3152.9,348.6 3188.3,356.3C3218.6,362.9 3250.5,370.6 3271.7,379.7C3286,385.9 3293.5,392.8 3305.7,400C3319.7,408.2 3337.7,416.9 3350.8,426.3C3362.3,434.6 3372.6,442.5 3380.8,452.6C3388.8,462.6 3395.3,474.8 3399.6,486.4C3403.6,497.4 3405.1,509.2 3406.3,520.2C3407.4,530.4 3406.9,538.9 3407.1,550.2C3407.3,564.7 3407.1,588.2 3407.1,600C3407.1,606.5 3407.6,609.5 3407.1,615C3406.5,621.8 3406.4,630.8 3403.3,637.6C3400.2,644.6 3394.6,650.2 3388.3,656.3C3380.4,664 3369,672.6 3358.3,678.9C3347.7,685.1 3335.9,689.4 3324.5,693.9C3313.3,698.4 3303.3,702.3 3290.7,706C3275.2,710.5 3255.3,714.6 3238.1,718C3221.8,721.2 3207.7,722.8 3190,725.9C3168.2,729.7 3140,735.9 3117,739.5C3096.6,742.7 3080.7,744.4 3058.8,746.8C3030.6,749.8 2995.6,753.1 2961.7,755.5C2924.7,758.1 2886.5,759.9 2845.3,761.3C2798.7,762.9 2746,763.3 2696.3,764.3"/>
<polygon class="a" points="2709.5,759.4 2696.3,764.3 2709.7,768.7"/>
<path class="e" d="M3070.3,396.3C2904.9,403.4 2693.3,411.9 2574,417.5C2506.7,420.6 2464.6,423.2 2416,425.5C2374.4,427.5 2340,428.8 2300,430.7C2257.1,432.8 2207.4,435.1 2166.5,437.7C2131.7,439.9 2099.6,442.4 2070,444.7C2044.8,446.7 2022.4,448 2000,450.6C1979.2,453 1963.6,454.6 1940,459.4C1905.3,466.4 1850.9,481.6 1812.5,492.3C1780.4,501.2 1747.8,512 1724.8,518.6C1709.9,522.9 1700.3,525.3 1688,528.7"/>
<polygon class="a" points="1699.6,520.7 1688,528.7 1702.1,529.7"/>
<path class="e" d="M3070.3,400.3C2980.4,408.9 2886.7,417.8 2800.7,426C2721.9,433.5 2637.1,442 2574,447.7C2528.7,451.8 2496.2,454.4 2457.3,457.7"/>
<polygon class="a" points="2470.2,451.9 2457.3,457.7 2471,461.2"/>
<path class="e" d="M3150.7,404.7C3154.8,411.9 3159,417.7 3163,426.3C3168.3,437.7 3174.5,453.6 3178,467.6C3181.4,481.2 3184.2,495.9 3183.7,508.9C3183.2,520.8 3180,532.8 3176.1,542.7C3172.7,551.3 3168.7,558.3 3163,565.2C3156.9,572.7 3149.2,579.5 3140,585.4C3129,592.5 3113.7,597.3 3100.5,603.3"/>
<polygon class="a" points="3111,593.8 3100.5,603.3 3114.6,602.5"/>
<path class="e" d="M3196.8,404.7C3216.8,410.6 3238.3,414.8 3256.9,422.5C3274.4,429.7 3292,438.6 3305.7,448.8C3317.7,457.7 3327.8,467.9 3335.7,478.9C3343.2,489.3 3349.2,501.5 3352.6,512.7C3355.6,522.7 3355.7,531.5 3356.4,542.7C3357.3,556.7 3356.4,577.3 3356.4,590C3356.4,598.5 3357,604.1 3356.4,611.3C3355.8,618.7 3355.5,626.3 3352.6,633.8C3349.2,642.6 3343,652.2 3335.7,660.1C3327.7,668.7 3317.4,676.2 3305.7,682.6C3291.9,690.2 3274.6,695.3 3256.9,701C3236.5,707.6 3212.8,713.3 3190,719.1C3166.2,725.2 3140,731.9 3117,736.6C3096.6,740.7 3080.7,743.5 3058.8,746.3C3030.6,749.9 2995.6,752.6 2961.7,755C2924.7,757.6 2886.5,759.5 2845.3,760.8C2798.7,762.3 2746,762.3 2696.3,763"/>
<polygon class="a" points="2709.6,758.2 2696.3,763 2709.7,767.5"/>
<path class="e" d="M2606,397C2535.3,400.7 2450.5,405.5 2394,408C2356.4,409.7 2334.1,409.7 2300,411.5C2259.4,413.7 2207.3,416.6 2166.5,421C2131.7,424.7 2099.6,430.1 2070,434.8C2044.8,438.8 2015.4,443.6 2000,447.1C1992.2,448.9 1990.6,448.7 1982.7,452C1962.8,460.4 1909.3,489 1882.7,509.3C1861.9,525.2 1846.7,539.2 1832.7,559.3C1817.1,581.7 1804.2,615.1 1796,639C1789.7,657.3 1786.4,671.2 1784.3,689C1782,708.7 1784.3,731.2 1784.3,752.3"/>
<polygon class="a" points="1779.4,739.1 1784.3,752.3 1788.7,738.9"/>
<path class="e" d="M2652.7,404.7C2639.8,411.8 2625.2,417.6 2614,426C2603.6,433.8 2593.4,442.4 2587.3,452.7C2581.4,462.5 2579,474.1 2577.3,486C2575.4,499.1 2577.3,514.2 2577.3,528.3"/>
<polygon class="a" points="2572.2,515.1 2577.3,528.3 2581.6,514.8"/>
<path class="e" d="M2678.3,404.7C2678.3,404.7 2678.3,453.7 2678.3,453.7"/>
<polygon class="a" points="2673.6,440.4 2678.3,453.7 2683,440.4"/>
<path class="e" d="M2697.3,404.7C2710.6,411.8 2719.4,416 2737.3,426C2775,447.1 2852.9,494.2 2910.7,528.3"/>
<polygon class="a" points="2896.8,525.5 2910.7,528.3 2901.6,517.5"/>
<path class="e" d="M2750.5,395.8C2777.1,400 2805.6,403.2 2830.2,408.5C2851.8,413.2 2870.4,418.4 2890.3,425.1C2910.5,431.9 2931.4,440.3 2950.4,449.1C2968.4,457.4 2987.4,466.5 3001.5,476C3012.9,483.6 3021.4,491.6 3030,500C3038.1,508 3046.8,517.4 3052,525C3055.7,530.4 3058,534.3 3059.8,540C3062,546.8 3063.2,554.7 3063,563.5C3062.8,575 3058.3,590 3055.9,603.3"/>
<polygon class="a" points="3054,589.3 3055.9,603.3 3063.2,591.2"/>
<path class="e" d="M2750.5,393.8C2782.1,397.7 2815.7,399 2845.2,405.5C2872,411.4 2896.8,420.9 2920.3,429.6C2941.6,437.5 2961,447.1 2980.4,455.1C2998.5,462.5 3015.3,466.2 3033,476C3053.8,487.6 3081.3,503.5 3096,522.5C3109.5,539.9 3115.7,563.4 3120.6,583.6C3125.1,602.2 3124.6,622.9 3125.7,639C3126.6,651.5 3127.7,663 3127.3,672.3C3127,679.1 3127.1,684.6 3124.8,690C3122.4,695.7 3118.4,701 3113.1,705.5C3106.7,711 3097.9,714.8 3087.9,719.1C3074.6,724.8 3057.6,729.9 3039.4,734.6C3016.7,740.5 2989.2,746.4 2961.7,750.2C2931.3,754.4 2901.5,756 2864.7,757.9C2816.3,760.4 2752.4,760.8 2696.3,762.2"/>
<polygon class="a" points="2709.5,757.2 2696.3,762.2 2709.7,766.6"/>
<path class="e" d="M1924.3,404.7C1940.4,411.8 1955.7,418.4 1972.7,426C1991.7,434.5 2012.7,444.5 2032.7,453.7"/>
<polygon class="a" points="2018.6,452.3 2032.7,453.7 2022.6,443.9"/>
<path class="e" d="M1900,404.7C1900.9,411.8 1901.8,418.1 1902.7,426C1903.8,436 1904.4,449.1 1906,460C1907.5,470.4 1909.5,479.7 1912,490C1914.7,501.3 1917.8,513.5 1922,525C1926.4,536.8 1931.8,548 1938,560C1944.9,573.3 1952.2,588.2 1962,601C1972.4,614.6 1985.4,627 1999.3,639C2014.3,652 2028.8,664.7 2049.3,675.7C2076.1,690.1 2111.2,702 2149.3,712.3C2197.3,725.3 2254.2,734.2 2316,742.3C2392.2,752.4 2487.3,756.8 2573,764"/>
<polygon class="a" points="2559.3,767.6 2573,764 2560.1,758.3"/>
<path class="e" d="M2051,479C2051,479 2022.7,528.3 2022.7,528.3"/>
<polygon class="a" points="2025.3,514.4 2022.7,528.3 2033.4,519.1"/>
<path class="e" d="M2064.3,479C2081.5,505.8 2099,532.5 2116,559.3C2132.9,585.9 2149,616.1 2166,639C2180.2,658.2 2191.2,675.5 2209.3,689C2229.3,703.9 2254,713.4 2282.7,722.3C2319.9,733.8 2369.6,739.4 2416,745.7C2466.1,752.5 2520.7,755.7 2573,760.7"/>
<polygon class="a" points="2559.3,764.1 2573,760.7 2560.2,754.8"/>
<path class="e" d="M2096,479C2096,479 2255.3,527.7 2255.3,527.7"/>
<polygon class="a" points="2241.2,528.3 2255.3,527.7 2243.9,519.3"/>
<path class="e" d="M2302.3,474.3C2240.2,480.4 2177.2,485.9 2116,492.7C2056.5,499.3 2003.2,507.7 1940,514.2C1866.7,521.7 1781.2,527.3 1701.8,533.9"/>
<polygon class="a" points="1714.7,528.2 1701.8,533.9 1715.5,537.5"/>
<path class="e" d="M2302.3,476C2229.1,483.8 2148.9,491.4 2082.7,499.3C2027.9,505.9 1973.3,506.2 1932.7,519.3C1902.1,529.2 1876.9,540.5 1857,560C1836.6,580 1823.2,615.2 1812.7,639C1804.7,657.1 1799.6,671.1 1796,689C1792,708.6 1792.7,731.2 1791,752.3"/>
<polygon class="a" points="1787.1,738.7 1791,752.3 1796.4,739.3"/>
<path class="e" d="M2364.3,479C2364.3,479 2306,528.3 2306,528.3"/>
<polygon class="a" points="2313.2,516.1 2306,528.3 2319.2,523.3"/>
<path class="e" d="M2380,479C2380,479 2380,528.3 2380,528.3"/>
<polygon class="a" points="2375.3,515 2380,528.3 2384.7,515"/>
<path class="e" d="M2391,479C2425.7,515.7 2468.9,559 2495,589C2512,608.5 2521.8,622.2 2535,639C2548.2,655.8 2560.3,672.1 2574,690C2589.2,709.8 2606.2,731.8 2622.3,752.7"/>
<polygon class="a" points="2610.5,745 2622.3,752.7 2617.9,739.3"/>
<path class="e" d="M2397.7,479C2438.8,505.7 2488.4,538.3 2521,559C2542.3,572.5 2555.5,579.7 2574,592C2595.1,606 2619.1,624.2 2640.7,639C2660.7,652.7 2679.6,664.8 2699,677.7"/>
<polygon class="a" points="2685.3,674.3 2699,677.7 2690.5,666.5"/>
<path class="e" d="M2446,479C2488.7,488 2531.4,497.9 2574,506C2616.2,514.1 2658.2,520.5 2700.3,527.7"/>
<polygon class="a" points="2686.4,530.1 2700.3,527.7 2687.9,520.9"/>
<path class="e" d="M2602.3,472.7C2592.9,473.5 2587.6,473.9 2574,475C2538.6,477.8 2455.3,484.4 2382.7,489.3C2286.9,495.8 2127.9,501.7 2049.3,509.3C2006.1,513.5 1975.9,512 1949.3,522.7C1928.5,531.1 1914.2,542.8 1899.3,559.3C1881.1,579.4 1866.6,615.6 1852.7,639C1841.7,657.6 1831.9,671.1 1822.7,689C1812.8,708.2 1804.9,730.1 1796,750.7"/>
<polygon class="a" points="1796.9,736.6 1796,750.7 1805.5,740.2"/>
<path class="e" d="M2662.3,479C2662.3,479 2597.3,526 2597.3,526"/>
<polygon class="a" points="2605.4,514.4 2597.3,526 2610.8,522"/>
<path class="e" d="M2676.7,479C2668.6,532.3 2659.6,590.2 2652.3,639C2646.2,680.1 2641.2,714.8 2635.7,752.7"/>
<polygon class="a" points="2633,738.8 2635.7,752.7 2642.2,740.2"/>
<path class="e" d="M2717.3,479C2717.3,479 2890.7,528.3 2890.7,528.3"/>
<polygon class="a" points="2876.6,529.1 2890.7,528.3 2879.2,520.2"/>
<path class="e" d="M2754.7,471C2794.5,474.9 2836.1,477.1 2874,482.7C2908.9,487.9 2947,493 2974,502.7C2994.2,509.9 3013.7,521.7 3024,529.3C3029.3,533.2 3031.6,535.1 3034.8,540C3039.4,547.1 3043.1,559.6 3046,570C3048.9,580.7 3050,592.2 3052,603.3"/>
<polygon class="a" points="3045.3,590.9 3052,603.3 3054.5,589.4"/>
<path class="e" d="M2872.3,554C2772.9,573 2655,595.2 2574,611C2518.2,621.9 2489.2,628 2432.7,639C2348.2,655.4 2220,679 2116,699C2014.9,718.4 1916.9,737.9 1817.3,757.3"/>
<polygon class="a" points="1829.5,750.2 1817.3,757.3 1831.3,759.3"/>
<path class="e" d="M2934.7,554C2937.2,566.9 2941.2,579.2 2942.3,592.7C2943.5,607.4 2942.4,624.9 2940.7,639C2939.3,651 2936.8,662.8 2934,672C2931.9,679 2930.2,684.5 2926.8,690C2923.3,695.7 2919.1,700.8 2913.2,705.5C2905.7,711.4 2895.7,716.2 2884.1,721C2868.3,727.5 2845.4,733.6 2825.9,738.5C2806.6,743.3 2788.1,746.9 2767.6,750.2C2745.1,753.8 2720.1,756 2696.3,758.9"/>
<polygon class="a" points="2709,752.7 2696.3,758.9 2710.1,762"/>
<path class="e" d="M2950.7,554C2950.7,554 3030.7,603 3030.7,603"/>
<polygon class="a" points="3016.9,600 3030.7,603 3021.8,592.1"/>
<path class="e" d="M2005.3,554C1984.4,582.3 1964,612.9 1942.7,639C1923.1,663.1 1905,686.9 1882.7,705.7C1861,724 1834.9,735.7 1811,750.7"/>
<polygon class="a" points="1820,739.8 1811,750.7 1824.8,747.8"/>
<path class="e" d="M2016,554C2016,554 2024.3,603 2024.3,603"/>
<polygon class="a" points="2017.5,590.6 2024.3,603 2026.7,589.1"/>
<path class="e" d="M2029.3,554C2041.5,564.7 2058.2,574.8 2066,586C2071.9,594.6 2076.1,604.9 2076,612.7C2075.9,618.9 2073.1,625 2069.3,629.3C2065.4,633.8 2060.5,635.9 2052.7,639C2037.7,645 2009.9,650.8 1982.7,655.7C1945.5,662.4 1893.8,667.7 1849.3,672.3C1804.9,676.8 1752.5,680.3 1716,683C1690.6,684.9 1672.9,685.9 1651.3,687.3"/>
<polygon class="a" points="1664.3,681.8 1651.3,687.3 1664.9,691.1"/>
<path class="e" d="M2031,554C2048.2,566.9 2067.8,578.1 2082.7,592.7C2097,606.6 2107.9,623.6 2119.3,639C2130,653.5 2135.4,669.8 2149.3,682.3C2166,697.3 2187.7,709.3 2216,719C2258.1,733.5 2325.2,738.6 2382.7,745.7C2443.9,753.3 2509.6,756.8 2573,762.3"/>
<polygon class="a" points="2559.3,765.8 2573,762.3 2560.1,756.5"/>
<path class="e" d="M2078,547.7C2157.3,553.2 2235.1,558.5 2316,564.1C2400.3,569.9 2477.8,575.4 2574,582C2696.2,590.4 2851.5,600.9 2990.3,610.3"/>
<polygon class="a" points="2976.7,614.1 2990.3,610.3 2977.3,604.7"/>
<path class="e" d="M1591.7,547.7C1513.8,554.8 1434.5,561.6 1358,569C1284,576.2 1204.7,585.8 1140,591.3C1088.2,595.7 1046.8,598 1000,601C952.8,604 884.1,607.1 858,609.3C848,610.1 844.2,610.8 837.3,611.5"/>
<polygon class="a" points="850,605.4 837.3,611.5 851.1,614.6"/>
<path class="e" d="M1621.3,554C1589.1,560.2 1552.3,564.5 1524.7,572.7C1502.9,579.2 1479.6,586.5 1468,596C1460.7,602 1455.3,608.9 1454.7,616C1454.1,623.2 1458.4,630.9 1464.7,639C1475.7,653.2 1502.2,671.8 1524.7,685.7C1549.5,701 1578,713.9 1608,725.7C1641.2,738.7 1689.9,752.3 1716,759C1730.5,762.7 1738.9,763.7 1750.3,766"/>
<polygon class="a" points="1736.3,768.1 1750.3,766 1738.1,759"/>
<path class="e" d="M1626.3,554C1626.3,554 1546.3,603 1546.3,603"/>
<polygon class="a" points="1555.2,592.1 1546.3,603 1560.1,600"/>
<path class="e" d="M1644.7,554C1640.2,582.3 1635.5,616.2 1631.3,639C1628.4,654.5 1625.8,664.8 1623,677.7"/>
<polygon class="a" points="1621.3,663.7 1623,677.7 1630.5,665.7"/>
<path class="e" d="M1654.7,554C1654.7,554 1681.3,603 1681.3,603"/>
<polygon class="a" points="1670.8,593.5 1681.3,603 1679,589.1"/>
<path class="e" d="M1541.3,628.3C1545.8,631.9 1548.8,634.4 1554.7,639C1566,647.9 1588,664.8 1604.7,677.7"/>
<polygon class="a" points="1591.3,673.2 1604.7,677.7 1597,665.9"/>
<path class="e" d="M803.3,628.7C803.3,628.7 901.3,677.7 901.3,677.7"/>
<polygon class="a" points="887.3,675.9 901.3,677.7 891.5,667.6"/>
<path class="e" d="M788.3,628.7C792.2,634.5 793.9,639.5 800,646C811.5,658.2 835,677.6 858,690.7C885.9,706.6 919.9,718.8 958,730.7C1006,745.7 1064.2,758.2 1124.7,769C1195.7,781.7 1271.8,790.7 1358,799C1464.5,809.2 1598.8,815.8 1716,821.7C1829,827.4 1925.6,831.1 2049.3,834C2204.4,837.6 2512.7,838.7 2574,839C2587,839.1 2589.8,839 2597.7,839"/>
<polygon class="a" points="2584.4,843.7 2597.7,839 2584.4,834.4"/>
<path class="e" d="M2998.8,629C2998.8,629 2762.7,680.7 2762.7,680.7"/>
<polygon class="a" points="2774.7,673.3 2762.7,680.7 2776.7,682.4"/>
<path class="e" d="M3019,629C3019,629 2877.3,677.7 2877.3,677.7"/>
<polygon class="a" points="2888.4,669 2877.3,677.7 2891.4,677.8"/>
<path class="e" d="M3047.5,629C3047.5,629 3033.3,677.7 3033.3,677.7"/>
<polygon class="a" points="3032.5,663.6 3033.3,677.7 3041.5,666.2"/>
<path class="e" d="M3067.5,629C3069.7,632.3 3071.1,635 3074,639C3078.9,645.7 3090.8,655.9 3095,665C3098.6,673 3100.1,683.7 3099.5,690C3099.1,694.1 3098.1,696.7 3095.7,699.7C3092.2,704 3086.1,708 3078.2,711.4C3064.8,717.2 3042,720.8 3020,724.9C2991.9,730.1 2955.3,734.4 2922.9,738.5C2890.6,742.5 2860.6,745.9 2825.9,749.2C2785.8,753.1 2739.5,756.3 2696.3,759.9"/>
<polygon class="a" points="2709.2,754.2 2696.3,759.9 2710,763.5"/>
<path class="e" d="M2786.7,702.3C2715.8,709.5 2648.4,717.6 2574,724C2492.2,731.1 2416.1,736.6 2316,742.3C2177,750.3 1983.5,756.8 1817.3,764"/>
<polygon class="a" points="1830.4,758.8 1817.3,764 1830.8,768.1"/>
<path class="e" d="M2810.7,703.3C2810.7,703.3 2669,750.7 2669,750.7"/>
<polygon class="a" points="2680.2,742 2669,750.7 2683.1,750.9"/>
<path class="e" d="M2634.7,778C2634.7,778 2634.7,827.3 2634.7,827.3"/>
<polygon class="a" points="2630,814 2634.7,827.3 2639.4,814"/>
</svg></body></html>
